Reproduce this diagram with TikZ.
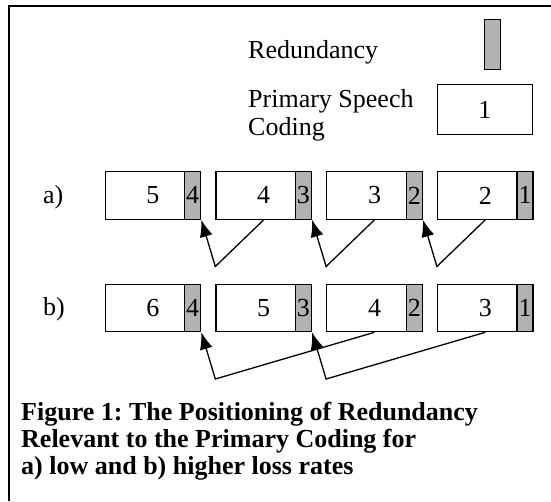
\documentclass[tikz,border=0pt]{standalone}
\usepackage{fontspec}
\setmainfont{Liberation Serif}
\usetikzlibrary{arrows.meta}
\definecolor{redgray}{gray}{0.7}
\frenchspacing
\begin{document}
\begin{tikzpicture}[x=1pt,y=-1pt,
  every node/.style={font=\fontsize{26}{28}\selectfont},
  mainbox/.style={draw, line width=1.3pt, minimum width=95.5pt, minimum height=47.5pt, inner sep=0pt, anchor=north west},
  redbox/.style={draw, fill=redgray, line width=1.3pt, minimum width=16pt, minimum height=47.5pt, inner sep=0pt, anchor=north east},
  link/.style={line width=1.3pt, -{Latex[length=17pt,width=13pt]}},
  plain/.style={inner sep=0pt},
]
\useasboundingbox (0,0) rectangle (551,501);
\draw[line width=1.5pt] (9,501) -- (9,6) -- (551,6);

% legend
\node[plain, anchor=base west] (redlbl) at (248,58) {Redundancy};
\node[draw, fill=redgray, line width=1.3pt, minimum width=16pt, minimum height=50pt, inner sep=0pt, anchor=north west] (redleg) at (484,19) {};
\node[plain, anchor=north west, align=left] (pslbl) at (248,89) {Primary Speech\\Coding};
\node[draw, line width=1.3pt, minimum width=95.5pt, minimum height=50pt, inner sep=0pt, anchor=north west] (psleg) at (436.5,84) {1};

% row labels
\node[plain, anchor=base west] (la) at (43,203) {a)};
\node[plain, anchor=base west] (lb) at (43,315) {b)};

% row a
\foreach \i/\w/\g in {0/5/4,1/4/3,2/3/2,3/2/1} {
  \node[mainbox] (a\i) at ({104.5+110.8*\i},171) {\w};
  \node[redbox] (ag\i) at (a\i.north east) {\g};
}
% row b
\foreach \i/\w/\g in {0/6/4,1/5/3,2/4/2,3/3/1} {
  \node[mainbox] (b\i) at ({104.5+110.8*\i},283.5) {\w};
  \node[redbox] (bg\i) at (b\i.north east) {\g};
}

% arrows row a
\foreach \i in {0,1,2} {
  \pgfmathtruncatemacro\j{\i+1}
  \coordinate (va\i) at ({104.5+110.8*\j},266.5);
  \draw[link] (a\j.south) -- (va\i) -- (ag\i.south east);
}
% arrows row b
\foreach \i in {0,1} {
  \pgfmathtruncatemacro\j{\i+1}
  \pgfmathtruncatemacro\k{\i+2}
  \coordinate (vb\i) at ({104.5+110.8*\j},379);
  \draw[link] (b\k.south) -- (vb\i) -- (bg\i.south east);
}

% caption
\node[plain, anchor=north west, align=left, font=\bfseries\fontsize{26}{27}\selectfont] (cap) at (21,402)
  {Figure 1: The Positioning of Redundancy\\Relevant to the Primary Coding for\\a) low and b) higher loss rates};
\end{tikzpicture}
\end{document}
